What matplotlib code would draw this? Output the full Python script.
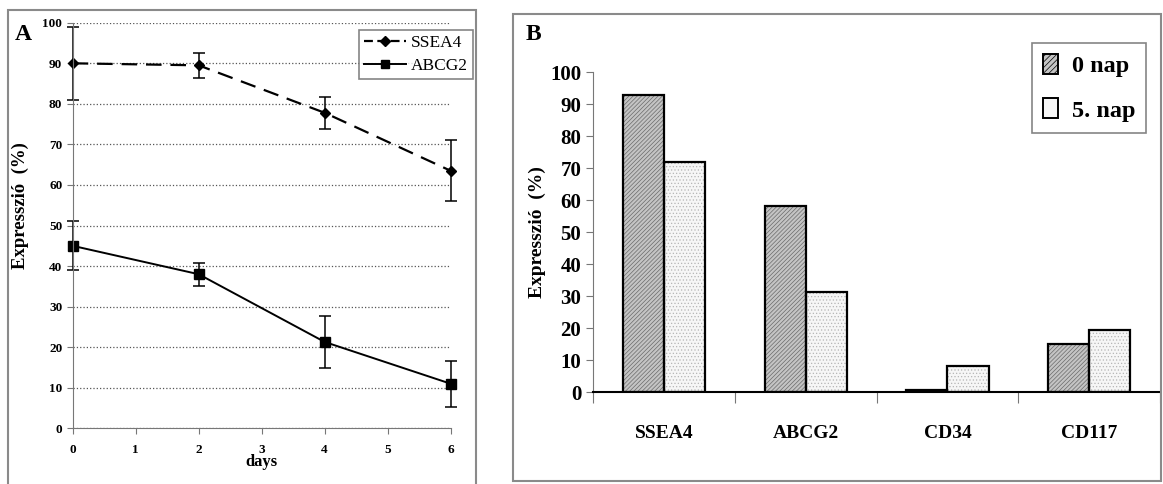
import matplotlib
matplotlib.use('Agg')
import matplotlib.pyplot as plt
import matplotlib.patches as mpatches
from matplotlib.lines import Line2D
import numpy as np

plt.rcParams['font.family'] = ['Liberation Serif', 'DejaVu Serif']
plt.rcParams['hatch.linewidth'] = 0.5

# Panel A data
days = [0, 2, 4, 6]
ssea4 = [90, 89.5, 77.8, 63.5]
ssea4_err = [9, 3, 4, 7.5]
abcg2 = [45, 38, 21.3, 11]
abcg2_err = [6, 2.8, 6.3, 5.7]

# Panel B data
markers_b = ['SSEA4', 'ABCG2', 'CD34', 'CD117']
nap0 = [93, 58.3, 0.7, 15]
nap5 = [71.8, 31.2, 8.2, 19.4]

fig = plt.figure(figsize=(11.63, 4.84), dpi=100)

# Panel borders
fig.patches.append(mpatches.Rectangle((0.0069, -0.01), 0.4024, 0.989, transform=fig.transFigure,
                                      fill=False, edgecolor='#8a8a8a', lw=1.5))
fig.patches.append(mpatches.Rectangle((0.4411, 0.0062), 0.5572, 0.9648, transform=fig.transFigure,
                                      fill=False, edgecolor='#8a8a8a', lw=1.5))

# ---- Panel A ----
axA = fig.add_axes([0.0625, 0.115, 0.325, 0.838])
e1 = axA.errorbar(days, ssea4, yerr=ssea4_err, color='black', lw=1.6, dashes=(7, 4),
                  marker='D', ms=5, capsize=4, elinewidth=1.1, capthick=1.1)
e2 = axA.errorbar(days, abcg2, yerr=abcg2_err, color='black', lw=1.4,
                  marker='s', ms=6.5, capsize=4, elinewidth=1.1, capthick=1.1)
for e in (e1, e2):
    e[0].set_clip_on(False)
    for c in e[1]:
        c.set_clip_on(False)
    for b in e[2]:
        b.set_clip_on(False)
axA.set_xlim(0, 6)
axA.set_ylim(0, 100)
axA.set_yticks(np.arange(0, 101, 10))
axA.set_xticks(range(0, 7))
axA.yaxis.grid(True, linestyle=':', color='#555555', lw=0.9)
axA.set_axisbelow(True)
for s in ['top', 'right']:
    axA.spines[s].set_visible(False)
for s in ['left', 'bottom']:
    axA.spines[s].set_color('#777777')
axA.tick_params(axis='both', colors='#777777', labelcolor='black', length=4, labelsize=9.5)
axA.tick_params(axis='x', pad=7)
for lab in axA.get_xticklabels() + axA.get_yticklabels():
    lab.set_fontweight('bold')
axA.set_xlabel('days', fontsize=12, fontweight='bold', labelpad=-1)
axA.set_ylabel('Expresszió  (%)', fontsize=13.5, fontweight='bold')
axA.yaxis.set_label_coords(-0.115, 0.55)
hA = [Line2D([], [], color='black', lw=1.6, dashes=(4, 2), marker='D', ms=5),
      Line2D([], [], color='black', lw=1.4, marker='s', ms=6)]
leg = axA.legend(hA, ['SSEA4', 'ABCG2'], loc='upper right', bbox_to_anchor=(0.4067, 0.938),
                 bbox_transform=fig.transFigure, fontsize=12.5, frameon=True,
                 fancybox=False, edgecolor='#666666', handlelength=2.4, borderpad=0.3,
                 labelspacing=0.35, handletextpad=0.3, borderaxespad=0)
leg.get_frame().set_linewidth(1.2)
fig.text(0.013, 0.928, 'A', fontsize=17, fontweight='bold', va='center', ha='left')

# ---- Panel B ----
axB = fig.add_axes([0.51, 0.19, 0.4875, 0.661])
x = np.arange(len(markers_b))
w = 0.29
# hatch layer then outline layer
axB.bar(x - w / 2, nap0, w, color='#c4c4c4', edgecolor='#6a6a6a', lw=0, hatch='////////')
axB.bar(x + w / 2, nap5, w, color='#f6f6f6', edgecolor='#b5b5b5', lw=0, hatch='.....')
axB.bar(x - w / 2, nap0, w, fill=False, edgecolor='black', lw=1.6)
axB.bar(x + w / 2, nap5, w, fill=False, edgecolor='black', lw=1.6)
axB.set_xlim(-0.5, 3.5)
axB.set_ylim(0, 100)
axB.set_yticks(np.arange(0, 101, 10))
axB.set_xticks(np.arange(-0.5, 4, 1))
axB.set_xticklabels([])
axB.set_xticks(x, minor=True)
axB.set_xticklabels(markers_b, minor=True)
axB.tick_params(axis='x', which='major', length=8, color='#777777')
axB.tick_params(axis='x', which='minor', length=0, pad=24, labelsize=14)
axB.tick_params(axis='y', length=5, color='#777777', labelsize=15)
for lab in axB.get_yticklabels() + axB.get_xticklabels(minor=True):
    lab.set_fontweight('bold')
for s in ['top', 'right']:
    axB.spines[s].set_visible(False)
axB.spines['left'].set_color('#777777')
axB.spines['bottom'].set_color('black')
axB.spines['bottom'].set_linewidth(1.5)
axB.set_ylabel('Expresszió  (%)', fontsize=14, fontweight='bold', labelpad=3)
hB = [mpatches.Patch(facecolor='#c4c4c4', edgecolor='black', lw=1.4, hatch='//////'),
      mpatches.Patch(facecolor='#f6f6f6', edgecolor='black', lw=1.4)]
legB = axB.legend(hB, ['0 nap', '5. nap'], loc='upper right', bbox_to_anchor=(0.9855, 0.911),
                  bbox_transform=fig.transFigure, frameon=True,
                  fancybox=False, edgecolor='#666666', handlelength=0.65, handleheight=0.9,
                  borderpad=0.45, labelspacing=0.85, handletextpad=0.55, borderaxespad=0,
                  prop={'weight': 'bold', 'size': 17.5})
legB.get_frame().set_linewidth(1.2)
fig.text(0.452, 0.928, 'B', fontsize=17, fontweight='bold', va='center', ha='left')

fig.savefig('out.png', dpi=100)
